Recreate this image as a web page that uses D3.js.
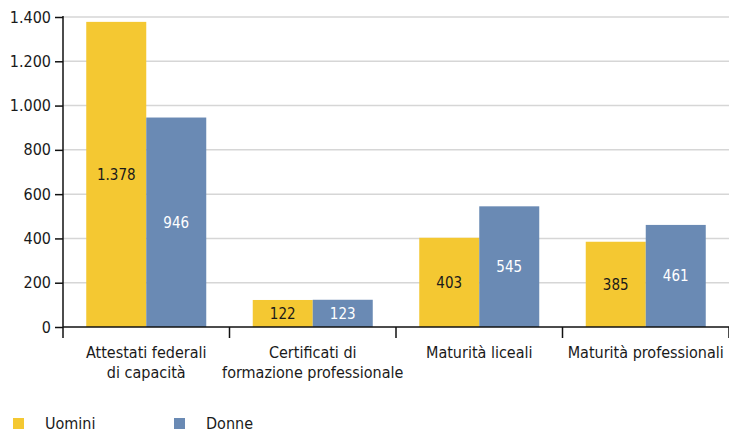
<!DOCTYPE html>
<meta charset="utf-8">
<html>
<head>
<style>
  body { margin: 0; background: #fff; }
  text { font-family: "Liberation Sans Narrow", "DejaVu Sans Condensed", "DejaVu Sans", sans-serif; font-stretch: condensed; fill: #1a1a1a; }
</style>
</head>
<body>
<script src="https://d3js.org/d3.v7.min.js"></script>
<script>
  var categories = [["Attestati federali", "di capacità"], ["Certificati di", "formazione professionale"], ["Maturità liceali"], ["Maturità professionali"]];
  var series = ["Uomini", "Donne"];
  var uomini = [1378, 122, 403, 385];
  var donne = [946, 123, 545, 461];
  var yTicks = [0, 200, 400, 600, 800, 1000, 1200, 1400];
  var colors = ["#f4c832", "#6a8ab4"];
  var labelColors = ["#1a1a1a", "#ffffff"];

  var width = 729, height = 432;
  var mLeft = 63, mRight = 729, mTop = 17, mBottom = 327;

  var svg = d3.select("body").append("svg")
    .attr("width", width)
    .attr("height", height);

  var fmt = function(d) { return d3.format(",")(d).replace(/,/g, "."); };

  var y = d3.scaleLinear().domain([0, 1400]).range([mBottom, mTop]);
  var x = d3.scaleBand().domain(d3.range(categories.length)).range([mLeft, mRight]);
  var x1 = d3.scaleBand().domain(d3.range(series.length)).range([x.bandwidth() / 2 - 60, x.bandwidth() / 2 + 60]);

  // gridlines
  svg.append("g").selectAll("line")
    .data(yTicks.filter(function(d) { return d > 0; }))
    .enter().append("line")
      .attr("x1", mLeft).attr("x2", mRight)
      .attr("y1", function(d) { return y(d); })
      .attr("y2", function(d) { return y(d); })
      .attr("stroke", "#d6d6d6")
      .attr("stroke-width", 1.5);

  // bars
  var rows = categories.map(function(c, i) { return [uomini[i], donne[i]]; });
  var groups = svg.append("g").selectAll("g")
    .data(rows)
    .enter().append("g")
      .attr("transform", function(d, i) { return "translate(" + x(i) + ",0)"; });

  groups.selectAll("rect")
    .data(function(d) { return d; })
    .enter().append("rect")
      .attr("x", function(d, j) { return x1(j); })
      .attr("width", x1.bandwidth())
      .attr("y", function(d) { return y(d); })
      .attr("height", function(d) { return mBottom - y(d); })
      .attr("fill", function(d, j) { return colors[j]; });

  groups.selectAll("text")
    .data(function(d) { return d; })
    .enter().append("text")
      .attr("x", function(d, j) { return x1(j) + x1.bandwidth() / 2; })
      .attr("y", function(d) { return (y(d) + mBottom) / 2; })
      .attr("dy", "0.35em")
      .attr("text-anchor", "middle")
      .style("font-size", "15px")
      .style("fill", function(d, j) { return labelColors[j]; })
      .text(fmt);

  // y axis
  var yAxis = svg.append("g")
    .attr("transform", "translate(" + mLeft + ",0)")
    .call(d3.axisLeft(y).tickValues(yTicks).tickSize(8).tickPadding(4).tickFormat(fmt));
  yAxis.select(".domain").attr("d", "M0," + (mTop - 1) + "V" + (mBottom + 11)).attr("stroke", "#111").attr("stroke-width", 1.5);
  yAxis.selectAll(".tick line").attr("stroke", "#111").attr("stroke-width", 1.5);
  yAxis.selectAll(".tick text").style("font-size", "16px").attr("font-family", null).attr("fill", "#1a1a1a");

  // x axis
  svg.append("line")
    .attr("x1", mLeft).attr("x2", mRight)
    .attr("y1", mBottom).attr("y2", mBottom)
    .attr("stroke", "#111").attr("stroke-width", 1.5);
  svg.append("g").selectAll("line")
    .data(d3.range(1, categories.length + 1))
    .enter().append("line")
      .attr("x1", function(i) { return x.step() * i + mLeft; })
      .attr("x2", function(i) { return x.step() * i + mLeft; })
      .attr("y1", mBottom).attr("y2", mBottom + 11)
      .attr("stroke", "#111").attr("stroke-width", 1.5);

  var catLabels = svg.append("g").selectAll("text")
    .data(categories)
    .enter().append("text")
      .attr("x", function(d, i) { return x(i) + x.bandwidth() / 2; })
      .attr("y", 358)
      .attr("text-anchor", "middle")
      .style("font-size", "16px");
  catLabels.selectAll("tspan")
    .data(function(d) { return d; })
    .enter().append("tspan")
      .attr("x", function() { return this.parentNode.getAttribute("x"); })
      .attr("dy", function(d, k) { return k === 0 ? 0 : 20; })
      .text(function(d) { return d; });

  // legend
  var legendX = [13, 174];
  var legend = svg.append("g").selectAll("g")
    .data(series)
    .enter().append("g")
      .attr("transform", function(d, i) { return "translate(" + legendX[i] + ",418)"; });
  legend.append("rect")
    .attr("width", 11).attr("height", 11)
    .attr("fill", function(d, i) { return colors[i]; });
  legend.append("text")
    .attr("x", 32).attr("y", 5.5)
    .attr("dy", "0.35em")
    .style("font-size", "16px")
    .text(function(d) { return d; });
</script>
</body>
</html>
